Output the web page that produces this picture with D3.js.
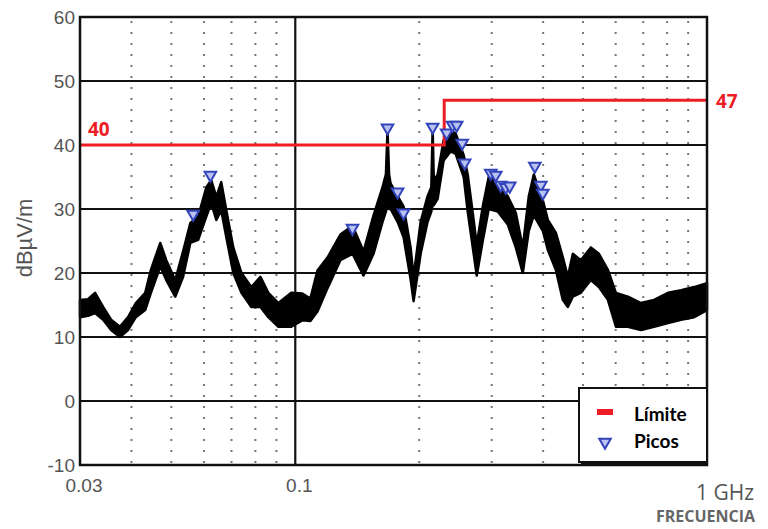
<!DOCTYPE html>
<html><head><meta charset="utf-8">
<script src="https://cdn.jsdelivr.net/npm/d3@7"></script>
<style>body{margin:0;background:#fff;}svg{display:block;}</style>
</head><body>
<svg id="c" width="768" height="529"></svg>
<script>
// ---- data ----
const traceFreq = [0.030,0.03137,0.03264,0.03414,0.0357,0.0375,0.03925,0.0410,0.0432,0.0446,0.0470,0.0486,0.0511,0.0534,0.0556,0.0581,0.0608,0.0625,0.0643,0.0661,0.0680,0.0707,0.0740,0.0782,0.0823,0.0860,0.0910,0.0978,
  0.104,0.1088,0.1132,0.1197,0.1287,0.1377,0.1465,0.1549,0.1629,0.1660,0.1675,0.1690,0.1704,0.1772,0.1832,0.1906,0.1938,0.2016,0.2096,0.2140,0.2156,0.2170,0.2217,0.2293,0.2384,0.2452,0.2565,0.2623,0.2698,0.2759,0.2853,0.2950,0.3103,0.3281,0.3432,0.3569,0.3691,0.3796,0.3992,
  0.4106,0.4293,0.4464,0.4592,0.4722,0.4938,0.5223,0.5463,0.5745,0.6009,0.6426,0.6912,0.7437,0.8043,0.8652,0.9304,1.0];
const traceLow  = [13.1,13.3,13.75,12.7,11.1,10,11.1,13.1,14.2,16.9,21,18.9,16.3,19.4,24.7,25.2,28.8,30.9,28.3,29.8,25.6,20,16.9,14.7,14.7,13.1,11.6,11.6,
  12.6,12.5,14,17.6,22,23,19.6,23,28,29.6,30.6,30,30,28,25.6,19,15.6,23,28,29.6,30.6,30.6,31.6,37.6,39,38.6,35,29.6,24,19.6,25,30,29.6,27.6,24,20,26.6,29,26.6,
  23.6,20.5,15.8,14.7,16.3,16.9,18.9,17.8,15.8,11.6,11.6,11.1,11.6,12.2,12.7,13.1,14.2];
const traceHigh = [15.8,15.9,16.9,14.7,12.7,11.6,13.1,15.3,16.9,20.5,24.7,22,18.9,23.4,27.8,28.8,33.4,34.5,31.9,34.2,29.8,24,20,17.8,19.4,16.9,15.3,16.9,
  16.8,16,20.4,22.4,26,27.4,23.4,29,33.4,35.4,42.3,35.4,34,32,30.4,24,19.4,28,32,33.4,42.6,34.4,35.4,40.8,42.3,41.8,38.4,35.4,29.4,24.4,30.4,35,34,32,29.4,24,32,35.4,31.4,
  28.3,26.3,22.5,19.4,23,22,24,23,20.5,16.9,16.3,15.3,15.8,16.9,17.3,17.8,18.4];
const peakFreq = [0.0565,0.0622,0.1377,0.1675,0.1772,0.1832,0.2156,0.2332,0.2411,0.2466,0.2543,0.2579,0.2984,0.3068,0.3155,0.3245,0.3318,0.3818,0.3948,0.3992];
const peakVal  = [29.2,35.3,27,42.7,32.7,29.4,42.8,41.9,43.1,43.1,40.3,37.2,35.6,35.3,33.75,33.4,33.6,36.7,33.75,32.5];
const limitFreq = [0.03,0.23,0.23,1];
const limitVal  = [40,40,47,47];
const yTicks = [-10,0,10,20,30,40,50,60];
const xMinorTicks = [0.04,0.05,0.06,0.07,0.08,0.09,0.2,0.3,0.4,0.5,0.6,0.7,0.8,0.9];
const xLabels = [{v:0.03,t:"0.03"},{v:0.1,t:"0.1"}];
const limitLabels = ["40","47"];
const legendItems = ["Límite","Picos"];

// ---- chart ----
const svg = d3.select("#c");
const L=80,R=707,T=17,B=465;
const x = d3.scaleLog().domain([0.03,1]).range([L,R]);
const y = d3.scaleLinear().domain([-10,60]).range([B,T]);

// minor dotted verticals
svg.append("g").selectAll("line").data(xMinorTicks).join("line")
  .attr("x1",d=>x(d)).attr("x2",d=>x(d)).attr("y1",T+4).attr("y2",B-2)
  .attr("stroke","#777").attr("stroke-width",2).attr("stroke-dasharray","2,9");
// horizontal grid
svg.append("g").selectAll("line").data(yTicks).join("line")
  .attr("x1",L).attr("x2",R).attr("y1",d=>y(d)).attr("y2",d=>y(d))
  .attr("stroke","#111").attr("stroke-width",2);
// 0.1 vertical
svg.append("line").attr("x1",x(0.1)).attr("x2",x(0.1)).attr("y1",T).attr("y2",B)
  .attr("stroke","#111").attr("stroke-width",2.2);

// trace
const area = d3.area().x((d,i)=>x(traceFreq[i])).y0((d,i)=>y(traceLow[i])).y1((d,i)=>y(traceHigh[i]));
svg.append("path").datum(traceFreq).attr("d",area)
  .attr("fill","#000").attr("stroke","#000").attr("stroke-width",2.5).attr("stroke-linejoin","round");

// limit
const lim = d3.line().x((d,i)=>x(limitFreq[i])).y((d,i)=>y(limitVal[i]));
svg.append("path").datum(limitFreq).attr("d",lim).attr("fill","none")
  .attr("stroke","#ee1c25").attr("stroke-width",3);

// peaks
const tri = d3.symbol().type(d3.symbolTriangle).size(58);
svg.append("g").selectAll("path").data(peakFreq).join("path")
  .attr("d",tri).attr("transform",(d,i)=>`translate(${x(d)},${y(peakVal[i])}) rotate(180)`)
  .attr("fill","#b9c2f0").attr("stroke","#3344bb").attr("stroke-width",2);

// frame
svg.append("rect").attr("x",L).attr("y",T).attr("width",R-L).attr("height",B-T)
  .attr("fill","none").attr("stroke","#111").attr("stroke-width",2.5);

// y tick labels
svg.append("g").selectAll("text").data(yTicks).join("text")
  .attr("x",L-5).attr("y",d=>y(d)+7).attr("text-anchor","end")
  .attr("font-family","Liberation Sans, Arial, sans-serif").attr("font-size",19)
  .attr("fill","#555").text(d=>d);
// x labels
svg.append("g").selectAll("text").data(xLabels).join("text")
  .attr("x",d=>x(d.v)+4).attr("y",492).attr("text-anchor","middle")
  .attr("font-family","Liberation Sans, Arial, sans-serif").attr("font-size",19)
  .attr("fill","#555").text(d=>d.t);
svg.append("text").attr("x",754).attr("y",500).attr("text-anchor","end")
  .attr("font-family","Open Sans, sans-serif").attr("font-size",21).attr("fill","#555").text("1 GHz");
svg.append("text").attr("x",755).attr("y",522).attr("text-anchor","end")
  .attr("font-family","Open Sans, sans-serif").attr("font-weight","bold").attr("font-size",16).attr("fill","#666").text("FRECUENCIA");
// y axis label
svg.append("text").attr("transform","translate(32,238) rotate(-90)").attr("text-anchor","middle")
  .attr("font-family","Liberation Sans, Arial, sans-serif").attr("font-size",22).attr("fill","#555").text("dBµV/m");

// limit labels
svg.append("text").attr("x",88).attr("y",y(40)-9).attr("font-family","Open Sans, sans-serif")
  .attr("font-weight","bold").attr("font-size",19).attr("fill","#ee1c25").text(limitLabels[0]);
svg.append("text").attr("x",716).attr("y",y(47)+8).attr("font-family","Open Sans, sans-serif")
  .attr("font-weight","bold").attr("font-size",19).attr("fill","#ee1c25").text(limitLabels[1]);

// legend
const lg = svg.append("g");
lg.append("rect").attr("x",579).attr("y",388).attr("width",128).attr("height",74)
  .attr("fill","#fff").attr("stroke","#111").attr("stroke-width",2);
lg.append("line").attr("x1",581).attr("x2",708).attr("y1",463).attr("y2",463).attr("stroke","#111").attr("stroke-width",3);
lg.append("rect").attr("x",597).attr("y",409).attr("width",16).attr("height",6).attr("fill","#ee1c25");
lg.append("path").attr("d",tri).attr("transform","translate(605,442) rotate(180)")
  .attr("fill","#b9c2f0").attr("stroke","#3344bb").attr("stroke-width",2);
lg.selectAll("text.l").data(legendItems).join("text").attr("class","l")
  .attr("x",634).attr("y",(d,i)=>421+i*27)
  .attr("font-family","Lato, Open Sans, sans-serif").attr("font-weight","bold").attr("font-size",19)
  .attr("fill","#000").text(d=>d);
</script>
</body></html>
